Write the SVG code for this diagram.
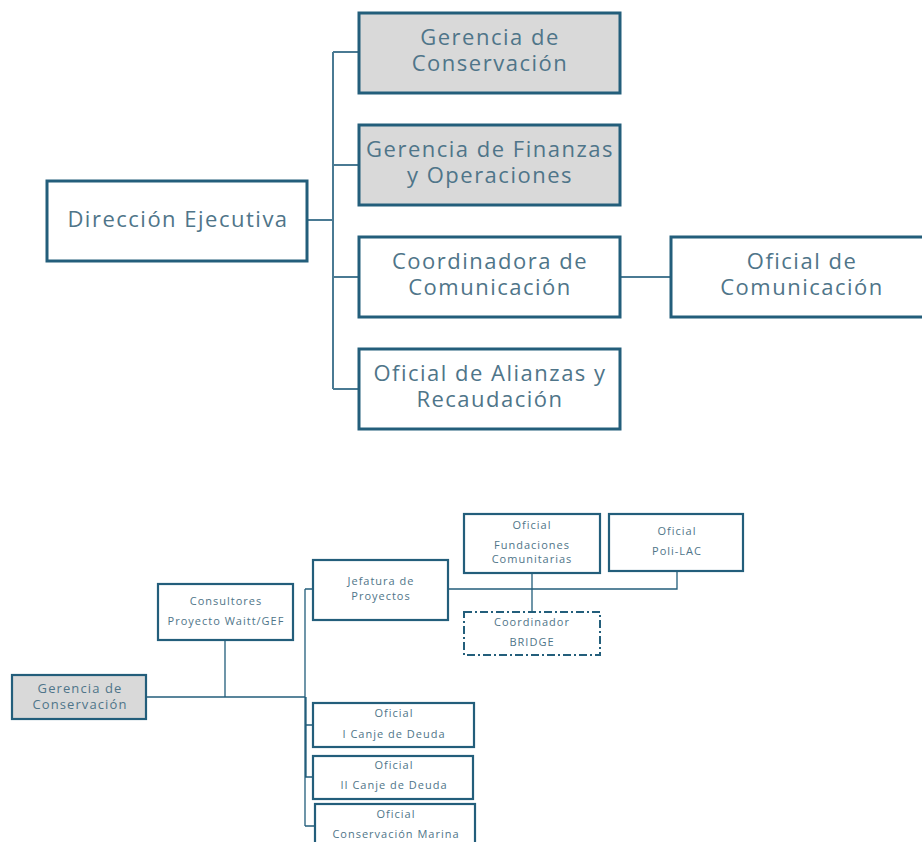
<svg xmlns="http://www.w3.org/2000/svg" width="922" height="842" viewBox="0 0 922 842">
<style>
.b1{fill:#fff;stroke:#235e7b;stroke-width:3}
.g1{fill:#d9d9d9;stroke:#235e7b;stroke-width:3}
.b2{fill:#fff;stroke:#235e7b;stroke-width:2.2}
.g2{fill:#d9d9d9;stroke:#235e7b;stroke-width:2.2}
.d2{fill:#fff;stroke:#235e7b;stroke-width:2;stroke-dasharray:8 3 2 3}
.c1{fill:none;stroke:#4a7a93;stroke-width:2}
.c2{fill:none;stroke:#235e7b;stroke-width:1.3}
.t1{font-family:"Open Sans","Noto Sans",sans-serif;font-size:22px;letter-spacing:1.5px;fill:#4f7589;text-anchor:middle}
.t2{font-family:"Open Sans","Noto Sans",sans-serif;font-size:11px;letter-spacing:1px;fill:#4f7589;text-anchor:middle}
.t3{font-family:"Open Sans","Noto Sans",sans-serif;font-size:13px;letter-spacing:1.1px;fill:#4f7589;text-anchor:middle}
</style>
<rect width="922" height="842" fill="#fff"/>
<g id="connectors">
<path class="c1" d="M307 220H333M333 52V389M333 52H359M333 165H359M333 277H359M333 389H359M620 277H671"/>
<path class="c2" d="M146 697H305M225 640V697M305 589V826M306 697V777M305 589H313M305 725H313M305 777H313M305 826H315M448 589H677V571M532 573V612"/>
</g>
<g id="dir"><rect class="b1" x="47" y="181" width="260" height="80"/><text class="t1" x="178" y="227">Dirección Ejecutiva</text></g>
<g id="gcons"><rect class="g1" x="359" y="13" width="261" height="80"/><text class="t1" x="490" y="45">Gerencia de</text><text class="t1" x="490" y="71">Conservación</text></g>
<g id="gfin"><rect class="g1" x="359" y="125" width="261" height="80"/><text class="t1" x="490" y="157">Gerencia de Finanzas</text><text class="t1" x="490" y="183">y Operaciones</text></g>
<g id="coord"><rect class="b1" x="359" y="237" width="261" height="80"/><text class="t1" x="490" y="269">Coordinadora de</text><text class="t1" x="490" y="295">Comunicación</text></g>
<g id="alianzas"><rect class="b1" x="359" y="349" width="261" height="80"/><text class="t1" x="490" y="381">Oficial de Alianzas y</text><text class="t1" x="490" y="407">Recaudación</text></g>
<g id="ofcom"><rect class="b1" x="671" y="237" width="260" height="80"/><text class="t1" x="802" y="269">Oficial de</text><text class="t1" x="802" y="295">Comunicación</text></g>

<g id="gcons2"><rect class="g2" x="12" y="675" width="134" height="44"/><text class="t3" x="80" y="693">Gerencia de</text><text class="t3" x="80" y="709">Conservación</text></g>
<g id="consult"><rect class="b2" x="158" y="584" width="135" height="56"/><text class="t2" x="226" y="605">Consultores</text><text class="t2" x="226" y="625">Proyecto Waitt/GEF</text></g>
<g id="jefatura"><rect class="b2" x="313" y="560" width="135" height="60"/><text class="t2" x="381" y="585">Jefatura de</text><text class="t2" x="381" y="600">Proyectos</text></g>
<g id="fund"><rect class="b2" x="464" y="514" width="136" height="59"/><text class="t2" x="532" y="529">Oficial</text><text class="t2" x="532" y="549">Fundaciones</text><text class="t2" x="532" y="563">Comunitarias</text></g>
<g id="poli"><rect class="b2" x="609" y="514" width="134" height="57"/><text class="t2" x="677" y="535">Oficial</text><text class="t2" x="677" y="555">Poli-LAC</text></g>
<g id="bridge"><rect class="d2" x="464" y="612" width="136" height="43"/><text class="t2" x="532" y="626">Coordinador</text><text class="t2" x="532" y="646">BRIDGE</text></g>
<g id="canje1"><rect class="b2" x="313" y="703" width="161" height="44"/><text class="t2" x="394" y="717">Oficial</text><text class="t2" x="394" y="738">I Canje de Deuda</text></g>
<g id="canje2"><rect class="b2" x="313" y="756" width="160" height="43"/><text class="t2" x="394" y="769">Oficial</text><text class="t2" x="394" y="789">II Canje de Deuda</text></g>
<g id="marina"><rect class="b2" x="315" y="804" width="160" height="50"/><text class="t2" x="396" y="818">Oficial</text><text class="t2" x="396" y="838">Conservación Marina</text></g>
</svg>
